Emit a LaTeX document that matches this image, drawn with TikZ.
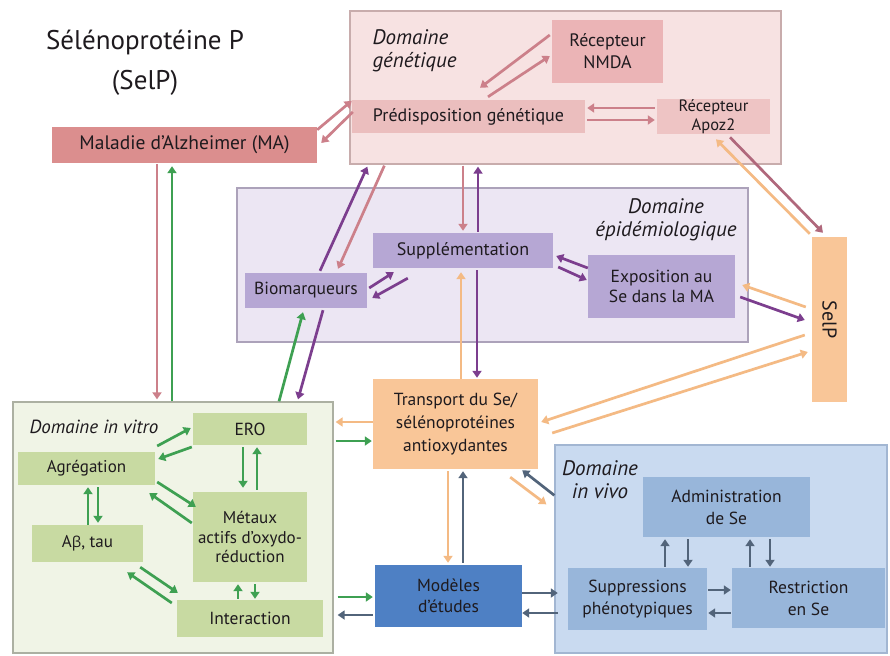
\documentclass[tikz,border=0pt]{standalone}
\usepackage{fontspec}
\setmainfont{PT Sans}
\newfontfamily\grkfont{Open Sans}
\usetikzlibrary{arrows.meta,calc}
\definecolor{txt}{RGB}{30,26,30}
\definecolor{malc}{RGB}{219,142,142}
\definecolor{genbg}{RGB}{247,226,226}
\definecolor{genbd}{RGB}{200,172,172}
\definecolor{predc}{RGB}{235,190,190}
\definecolor{nmdac}{RGB}{235,180,182}
\definecolor{apozc}{RGB}{238,196,196}
\definecolor{epibg}{RGB}{236,230,243}
\definecolor{epibd}{RGB}{172,162,186}
\definecolor{epic}{RGB}{182,167,212}
\definecolor{orc}{RGB}{249,198,152}
\definecolor{vitbg}{RGB}{240,244,230}
\definecolor{vitbd}{RGB}{172,176,162}
\definecolor{grc}{RGB}{200,218,162}
\definecolor{modc}{RGB}{78,128,196}
\definecolor{vivbg}{RGB}{201,218,240}
\definecolor{vivbd}{RGB}{162,182,210}
\definecolor{vivc}{RGB}{152,182,218}
\definecolor{apink}{RGB}{204,128,138}
\definecolor{apurple}{RGB}{124,62,142}
\definecolor{agreen}{RGB}{62,160,82}
\definecolor{aorange}{RGB}{244,186,132}
\definecolor{aslate}{RGB}{82,100,122}
\definecolor{amauve}{RGB}{176,104,124}
\begin{document}
\begin{tikzpicture}[x=1pt,y=-1pt,
  box/.style={inner sep=0.5pt, align=center, text=txt, font=\fontsize{17.5}{20}\selectfont},
  dom/.style={line width=1.3pt},
  lab/.style={align=center, text=txt, font=\fontsize{21}{23}\selectfont\itshape},
  arr/.style={line width=2.7pt, -{Triangle[length=7pt,width=9pt]}},
  pk/.style={arr, draw=apink},
  pu/.style={arr, draw=apurple},
  gr/.style={arr, draw=agreen},
  og/.style={arr, draw=aorange},
  sl/.style={arr, draw=aslate},
  mv/.style={arr, draw=amauve}]
\useasboundingbox[fill=white] (0,0) rectangle (890,655);

% title
\node[text=txt, align=center, font=\fontsize{27}{40}\selectfont] (title) at (145,63) {Sélénoprotéine P\\(SelP)};

% domain frames
\node[dom, draw=genbd, fill=genbg, minimum width=431pt, minimum height=153pt] (gen) at (565.5,87.5) {};
\node[dom, draw=epibd, fill=epibg, minimum width=511pt, minimum height=154pt] (epi) at (492.5,265) {};
\node[dom, draw=vitbd, fill=vitbg, minimum width=320pt, minimum height=251pt] (vitro) at (173,527.5) {};
\node[dom, draw=vivbd, fill=vivbg, minimum width=332pt, minimum height=208pt] (vivo) at (721,549) {};

% domain labels
\node[lab, align=left, anchor=west] (lgen) at (369,50.5) {Domaine\\génétique};
\node[lab] (lepi) at (666,220) {Domaine\\épidémiologique};
\node[lab, anchor=west, font=\fontsize{19}{23}\selectfont\itshape] (lvit) at (26,427) {Domaine in vitro};
\node[lab] (lviv) at (600,480) {Domaine\\in vivo};

% boxes
\node[box, fill=malc, minimum width=265pt, minimum height=36pt, font=\fontsize{19.5}{21}\selectfont] (mal) at (184.5,145) {Maladie d’Alzheimer (MA)};
\node[box, fill=predc, minimum width=233pt, minimum height=33pt, font=\fontsize{18}{20}\selectfont] (pred) at (468.5,116.5) {Prédisposition génétique};
\node[box, fill=nmdac, minimum width=111pt, minimum height=63pt, font=\fontsize{18}{22}\selectfont] (nmda) at (607.5,51.5) {Récepteur\\NMDA};
\node[box, fill=apozc, minimum width=113pt, minimum height=33pt, font=\fontsize{16.5}{19}\selectfont] (apoz) at (713.5,116.5) {Récepteur\\Apoz2};
\node[box, fill=epic, minimum width=180pt, minimum height=35pt, font=\fontsize{18}{20}\selectfont] (supp) at (463,250.5) {Supplémentation};
\node[box, fill=epic, minimum width=122pt, minimum height=35pt] (bio) at (306,290.5) {Biomarqueurs};
\node[box, fill=epic, minimum width=147pt, minimum height=63pt, font=\fontsize{17.5}{20}\selectfont] (expo) at (661.5,286.5) {Exposition au\\Se dans la MA};
\node[box, fill=orc, minimum width=35pt, minimum height=165pt] (selp) at (829.5,319.5) {};
\node[text=txt, rotate=-90, font=\fontsize{20}{22}\selectfont] (selpt) at (selp) {SelP};
\node[box, fill=orc, minimum width=165pt, minimum height=90pt, font=\fontsize{17.5}{23}\selectfont] (trans) at (455.5,424) {Transport du Se/\\sélénoprotéines\\antioxydantes};
\node[box, fill=grc, minimum width=114pt, minimum height=32pt] (ero) at (250,429) {ERO};
\node[box, fill=grc, minimum width=137pt, minimum height=33pt, font=\fontsize{17}{20}\selectfont] (agr) at (86.5,468.5) {Agrégation};
\node[box, fill=grc, minimum width=111pt, minimum height=37pt, font=\fontsize{17}{20}\selectfont] (abeta) at (87.5,543.5) {A{\grkfont\fontsize{15}{20}\selectfont β}, tau};
\node[box, fill=grc, minimum width=114pt, minimum height=90pt, font=\fontsize{17}{19.5}\selectfont] (met) at (250,537) {Métaux\\actifs d’oxydo-\\réduction};
\node[box, fill=grc, minimum width=146pt, minimum height=37pt] (inter) at (250,618.5) {Interaction};
\node[box, fill=modc, minimum width=147pt, minimum height=62pt, font=\fontsize{17.5}{21}\selectfont] (mod) at (448.5,596) {Modèles\\d’études};
\node[box, fill=vivc, minimum width=167pt, minimum height=60pt, font=\fontsize{17.5}{22}\selectfont] (adm) at (726.5,507) {Administration\\de Se};
\node[box, fill=vivc, minimum width=139pt, minimum height=62pt, font=\fontsize{17.5}{22}\selectfont] (supr) at (637.5,599) {Suppressions\\phénotypiques};
\node[box, fill=vivc, minimum width=153pt, minimum height=60pt, font=\fontsize{17.5}{22}\selectfont] (restr) at (808.5,598) {Restriction\\en Se};

% connectors
\draw[pk] ($(mal.north east)+(0,3)$) -- ($(pred.north west)+(0,1)$);
\draw[pk] ($(pred.west)+(1,-4.5)$) -- ($(mal.east)+(4,-2)$);
\draw[pk] ($(nmda.west)+(-2,-16.5)$) -- ($(pred.north)+(11.5,-12)$);
\draw[pk] ($(pred.north)+(19.5,-3)$) -- ($(nmda.west)+(-2,4.5)$);
\draw[pk] ($(apoz.west)+(-2,-8.5)$) -- ($(pred.east)+(2,-8.5)$);
\draw[pk] ($(pred.east)+(2,3.5)$) -- ($(apoz.west)+(-2,3.5)$);
\draw[og] ($(selp.north west)+(-2,-3)$) -- ($(apoz.south)+(2.5,5)$);
\draw[mv] ($(apoz.south)+(16.5,3)$) -- ($(selp.north)+(-6.5,-4)$);
\draw[pk] ($(gen.south west)+(35,1)$) -- ($(bio.north)+(32,-4)$);
\draw[pu] ($(bio.north)+(14,-2)$) -- ($(gen.south west)+(18,2)$);
\draw[pk] ($(supp.north |- gen.south)+(0,1)$) -- ($(supp.north)+(0,-2)$);
\draw[pu] ($(supp.north)+(15,-1)$) -- ($(supp.north |- gen.south)+(15,2)$);
\draw[pu] ($(bio.east)+(2,-2.5)$) -- ($(supp.south west)+(21,4)$);
\draw[pu] ($(supp.south west)+(35,10)$) -- ($(bio.east)+(5,7.5)$);
\draw[pu] ($(expo.west)+(0,-18.5)$) -- ($(supp.east)+(3,5.5)$);
\draw[pu] ($(supp.east)+(5,16.5)$) -- ($(expo.west)+(-1,-6.5)$);
\draw[og] ($(selp.west)+(-6,-12.5)$) -- ($(expo.east)+(7,-1.5)$);
\draw[pu] ($(expo.east)+(5,10.5)$) -- ($(selp.west)+(-7,0.5)$);
\draw[og] ($(selp.west)+(-7,15.5)$) -- ($(trans.east)+(3,-2)$);
\draw[og] ($(trans.east)+(14,9)$) -- ($(selp.west)+(-4,32.5)$);
\draw[og] ($(trans.north)+(5.5,0)$) -- ($(supp.south)+(-2,4)$);
\draw[pu] ($(supp.south)+(14,2)$) -- ($(trans.north)+(21.5,-1)$);
\draw[og] ($(trans.west)+(0,-2)$) -- ($(vitro.east |- trans.west)+(2,-2)$);
\draw[gr] ($(vitro.east |- trans.west)+(2,17)$) -- ($(trans.west)+(-1,17)$);
\draw[pk] ($(mal.south)+(-27.5,1)$) -- ($(mal.south |- vitro.north)+(-27.5,-2)$);
\draw[gr] ($(mal.south |- vitro.north)+(-12.5,0)$) -- ($(mal.south)+(-12.5,3)$);
\draw[gr] ($(vitro.north)+(106,0)$) -- ($(bio.south)+(-3,4)$);
\draw[pu] ($(bio.south)+(17,2)$) -- ($(vitro.north)+(125,-2)$);
% in vitro
\draw[gr] ($(agr.east)+(2,-22.5)$) -- ($(ero.west)+(-2,-1)$);
\draw[gr] ($(ero.west)+(-1,18)$) -- ($(agr.east)+(3,-9.5)$);
\draw[gr] ($(ero.south)+(-7,2)$) -- ($(met.north)+(-7,-4)$);
\draw[gr] ($(met.north)+(7,-2)$) -- ($(ero.south)+(7,2)$);
\draw[gr] ($(agr.east)+(2,13.5)$) -- ($(met.north west)+(3,15)$);
\draw[gr] ($(met.west)+(-1,-14)$) -- ($(agr.east)+(-6,24.5)$);
\draw[gr] ($(abeta.north)+(0.5,0)$) -- ($(agr.south)+(1.5,2)$);
\draw[gr] ($(agr.south)+(11.5,2)$) -- ($(abeta.north)+(10.5,-2)$);
\draw[gr] ($(inter.west)+(-5,-15.5)$) -- ($(abeta.south east)+(-16,10)$);
\draw[gr] ($(abeta.south east)+(-3,5)$) -- ($(inter.north west)+(1,-7)$);
\draw[gr] ($(inter.north)+(-12,-1)$) -- ($(met.south)+(-12,2)$);
\draw[gr] ($(met.south)+(5,2)$) -- ($(inter.north)+(5,-1)$);
\draw[gr] ($(vitro.east |- mod.west)+(4,1)$) -- ($(mod.west)+(-2,1)$);
\draw[sl] ($(mod.west)+(-2,19)$) -- ($(vitro.east |- mod.west)+(4,19)$);
% lower centre
\draw[og] ($(trans.south)+(-7.5,2)$) -- ($(mod.north)+(-0.5,-2)$);
\draw[sl] ($(mod.north)+(14.5,-2)$) -- ($(trans.south)+(7.5,2)$);
\draw[og] ($(trans.south east)+(-28,8)$) -- ($(vivo.north west)+(-8,60)$);
\draw[sl] ($(vivo.north west)+(0,51)$) -- ($(trans.south east)+(-16,1)$);
\draw[sl] ($(mod.east)+(0,-3)$) -- ($(supr.west)+(-10,-6)$);
\draw[sl] ($(supr.west)+(-10,14)$) -- ($(mod.east)+(0,17)$);
% in vivo
\draw[sl] ($(supr.north)+(27.5,-1)$) -- ($(adm.south)+(-61.5,2)$);
\draw[sl] ($(adm.south)+(-38.5,2)$) -- ($(supr.north)+(50.5,-1)$);
\draw[sl] ($(restr.north)+(-58.5,-1)$) -- ($(adm.south)+(23.5,2)$);
\draw[sl] ($(adm.south)+(43.5,2)$) -- ($(restr.north)+(-38.5,-1)$);
\draw[sl] ($(supr.east)+(1,-9)$) -- ($(restr.west)+(-1,-8)$);
\draw[sl] ($(restr.west)+(-1,15)$) -- ($(supr.east)+(1,14)$);
\end{tikzpicture}
\end{document}
